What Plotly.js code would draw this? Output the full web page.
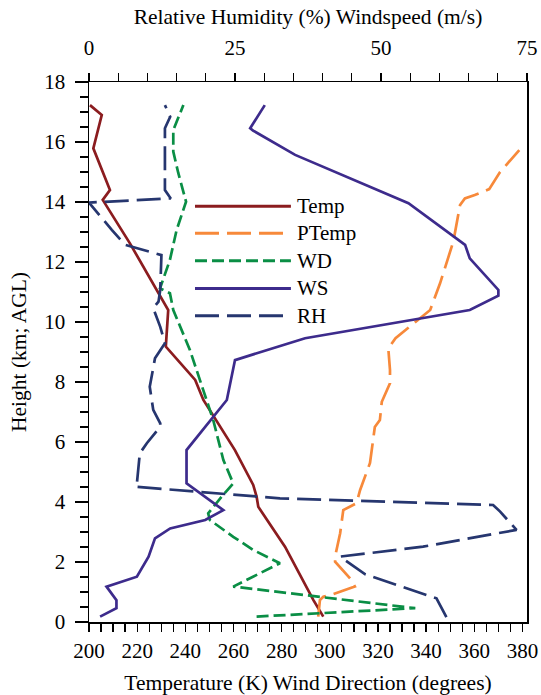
<!DOCTYPE html>
<html>
<head>
<meta charset="utf-8">
<script src="https://cdn.plot.ly/plotly-3.0.1.min.js"></script>
<style>html,body{margin:0;padding:0;background:#fff;overflow:hidden;}#chart{width:541px;height:695px;}</style>
</head>
<body>
<div id="chart"></div>
<script>
// Temperature (K) vs height (km)
var tempH = [0.18, 0.73, 2.51, 3.84, 4.18, 4.57, 5.73, 6.6, 7.4, 8.07, 9.18, 10.4, 12.62, 14.07, 14.4, 15.79, 16.9, 17.23];
var tempK = [297.3, 293.2, 281.4, 270.3, 269.6, 268.2, 260.6, 253.7, 247.5, 244.1, 231.9, 232.9, 217.0, 205.7, 208.7, 201.8, 205.3, 200.4];

// Potential temperature (K)
var ptempH = [0.18, 0.73, 0.84, 0.93, 1.18, 1.4, 2.01, 2.18, 2.96, 3.4, 3.73, 3.96, 4.4, 5.3, 6.5, 6.73, 7.34, 7.96, 8.4, 9.12, 9.46, 10.4, 11.29, 12.68, 13.9, 14.12, 14.23, 14.43, 15.0, 15.73];
var ptempK = [295.2, 295.9, 297.3, 301.4, 310.4, 309.0, 302.2, 302.2, 304.3, 305.0, 305.6, 311.1, 312.6, 316.7, 318.7, 320.8, 321.6, 325.0, 325.0, 324.3, 327.3, 341.7, 345.8, 351.3, 354.1, 356.1, 360.2, 366.2, 370.7, 378.7];

// Wind direction (degrees)
var wdH = [0.18, 0.46, 1.18, 1.96, 2.4, 2.84, 3.4, 3.62, 4.18, 4.62, 5.4, 6.73, 9.07, 10.4, 10.96, 11.12, 12.07, 13.07, 14.01, 14.96, 15.68, 16.4, 17.23];
var wdDeg = [269.6, 335.5, 259.9, 279.3, 268.2, 259.9, 250.2, 249.5, 255.1, 259.9, 255.8, 251.6, 241.9, 235.0, 233.6, 229.5, 233.6, 236.4, 240.3, 237.1, 235.0, 235.0, 239.2];

// Wind speed (m/s)
var wsH = [0.18, 0.46, 0.73, 1.18, 1.51, 2.18, 2.79, 3.12, 3.4, 3.73, 4.62, 5.73, 7.4, 8.73, 9.46, 10.4, 10.88, 11.07, 12.12, 12.57, 13.96, 15.57, 16.38, 16.46, 17.23];
var wsV = [1.9, 4.7, 4.7, 3.0, 8.2, 10.2, 11.3, 13.9, 19.9, 23.0, 16.7, 16.7, 23.6, 25.0, 37.0, 65.2, 70.1, 70.1, 65.2, 64.4, 54.7, 35.3, 28.1, 27.6, 30.1];

// Relative humidity (%)
var rhH = [0.16, 0.46, 0.79, 0.9, 1.59, 2.18, 2.51, 3.07, 3.68, 3.9, 4.12, 4.51, 4.62, 5.62, 5.96, 6.51, 6.62, 7.07, 7.84, 8.79, 9.29, 9.84, 10.46, 10.68, 11.07, 12.23, 12.51, 12.57, 13.07, 13.98, 14.12, 14.4, 16.46, 16.84, 17.23];
var rhV = [61.2, 60.4, 59.5, 57.8, 47.3, 43.0, 57.2, 73.2, 70.4, 69.2, 32.7, 7.9, 8.2, 8.7, 9.9, 12.2, 12.2, 11.0, 10.4, 11.3, 13.0, 12.2, 11.0, 11.9, 12.2, 12.4, 7.6, 6.2, 3.9, 0.0, 14.0, 13.0, 13.0, 13.9, 13.0];

var seriesNames = ['Temp', 'PTemp', 'WD', 'WS', 'RH'];
var seriesColors = ['#8b1c1f', '#f7893a', '#0a8e45', '#3d2b8c', '#26366f'];
var seriesDash = ['solid', '24px,8px', '12px,5px', 'solid', '24px,8px'];

var bottomTicks = [200, 220, 240, 260, 280, 300, 320, 340, 360, 380];
var topTicks = [0, 25, 50, 75];
var heightTicks = [0, 2, 4, 6, 8, 10, 12, 14, 16, 18];

var LW = 2.7;
var font = 'Liberation Serif, Times New Roman, serif';
var TICK_FS = 21, TITLE_FS = 21.5;

function tr(x, y, i, xa) {
  return {x: x, y: y, xaxis: xa, yaxis: 'y', mode: 'lines', name: seriesNames[i],
    line: {color: seriesColors[i], width: LW, dash: seriesDash[i]}, showlegend: false, hoverinfo: 'skip'};
}

var data = [
  tr(tempK, tempH, 0, 'x'),
  tr(ptempK, ptempH, 1, 'x'),
  tr(wdDeg, wdH, 2, 'x'),
  tr(wsV, wsH, 3, 'x2'),
  tr(rhV, rhH, 4, 'x2')
];

// manual legend
var legX0 = 0.242, legX1 = 0.461, legTextX = 0.47;
var legY = [0.770, 0.7198, 0.669, 0.6176, 0.567];
var shapes = [], annotations = [];
for (var i = 0; i < seriesNames.length; i++) {
  shapes.push({type: 'line', xref: 'paper', yref: 'paper', x0: legX0, x1: legX1, y0: legY[i], y1: legY[i],
    line: {color: seriesColors[i], width: 3, dash: seriesDash[i]}});
  annotations.push({xref: 'paper', yref: 'paper', x: legTextX, y: legY[i], xanchor: 'left', yanchor: 'middle',
    text: seriesNames[i], showarrow: false, font: {family: font, size: TICK_FS, color: '#000'}});
}

var axCommon = {
  showline: true, linecolor: '#000', linewidth: 1.5, mirror: false,
  ticks: 'outside', ticklen: 8, tickwidth: 1.3, tickcolor: '#000',
  showgrid: false, zeroline: false, ticklabeloverflow: 'allow',
  tickfont: {family: font, size: TICK_FS, color: '#000'}
};

var layout = {
  width: 541, height: 695,
  margin: {l: 89, r: 14, t: 82, b: 73, pad: 0},
  paper_bgcolor: '#fff', plot_bgcolor: '#fff',
  font: {family: font, size: TICK_FS, color: '#000'},
  showlegend: false,
  xaxis: Object.assign({}, axCommon, {
    range: [200, 381.9], tickmode: 'array', tickvals: bottomTicks, ticktext: bottomTicks.map(String),
    ticklabelstandoff: 1,
    minor: {tick0: 200, dtick: 5, ticklen: 8, tickwidth: 1.3, tickcolor: '#000', ticks: 'outside'},
    title: {text: 'Temperature (K) Wind Direction (degrees)', font: {family: font, size: TITLE_FS, color: '#000'}, standoff: 19}
  }),
  xaxis2: Object.assign({}, axCommon, {
    overlaying: 'x', side: 'top', anchor: 'y',
    range: [0, 75], tickmode: 'array', tickvals: topTicks, ticktext: topTicks.map(String),
    ticklabelstandoff: 9,
    minor: {tick0: 0, dtick: 5, ticklen: 8, tickwidth: 1.3, tickcolor: '#000', ticks: 'outside'},
    title: {text: 'Relative Humidity (%) Windspeed (m/s)', font: {family: font, size: TITLE_FS, color: '#000'}, standoff: 5}
  }),
  yaxis: Object.assign({}, axCommon, {
    range: [0, 18], tickmode: 'array', tickvals: heightTicks, ticktext: heightTicks.map(String),
    mirror: true, ticklen: 13, ticklabelstandoff: 5,
    minor: {tick0: 0, dtick: 0.5, ticklen: 8, tickwidth: 1.3, tickcolor: '#000', ticks: 'outside'},
    title: {text: 'Height (km; AGL)', font: {family: font, size: TITLE_FS, color: '#000'}, standoff: 12}
  }),
  shapes: shapes,
  annotations: annotations
};

Plotly.newPlot('chart', data, layout, {displayModeBar: false, staticPlot: true});
</script>
</body>
</html>
